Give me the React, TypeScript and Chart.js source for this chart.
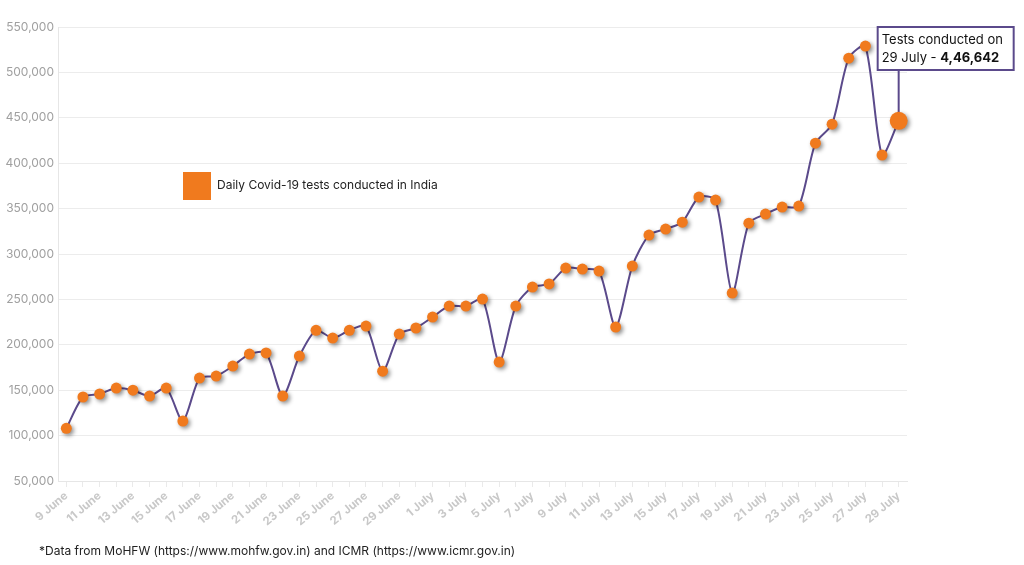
import React, { useEffect, useRef } from "react";
import { Chart, registerables } from "chart.js";

Chart.register(...registerables);

const dates: string[] = [
  "9 June", "10 June", "11 June", "12 June", "13 June", "14 June", "15 June", "16 June", "17 June", "18 June",
  "19 June", "20 June", "21 June", "22 June", "23 June", "24 June", "25 June", "26 June", "27 June", "28 June",
  "29 June", "30 June", "1 July", "2 July", "3 July", "4 July", "5 July", "6 July", "7 July", "8 July",
  "9 July", "10 July", "11 July", "12 July", "13 July", "14 July", "15 July", "16 July", "17 July", "18 July",
  "19 July", "20 July", "21 July", "22 July", "23 July", "24 July", "25 July", "26 July", "27 July", "28 July",
  "29 July",
];

const dailyTests: number[] = [
  108000, 142500, 145800, 152400, 150000, 143600, 152400, 116000, 163400, 165600,
  176600, 189800, 191000, 143600, 187600, 216000, 207400, 216000, 220600, 171000,
  211800, 218500, 230600, 242700, 242700, 250400, 181000, 242700, 263600, 267000,
  284500, 283400, 281200, 219600, 286700, 320800, 327500, 335000, 362700, 359400,
  257000, 334000, 344000, 351700, 352800, 422000, 443000, 515700, 529000, 409000,
  446642,
];

const yTicks: number[] = [50000, 100000, 150000, 200000, 250000, 300000, 350000, 400000, 450000, 500000, 550000];

const seriesLabel = "Daily Covid-19 tests conducted in India";
const calloutLine1 = "Tests conducted on";
const calloutLine2a = "29 July - ";
const calloutLine2b = "4,46,642";
const footnote = "*Data from MoHFW (https://www.mohfw.gov.in) and ICMR (https://www.icmr.gov.in)";

const FONT = "Inter, 'Noto Sans', sans-serif";

export default function App() {
  const ref = useRef<HTMLCanvasElement | null>(null);

  useEffect(() => {
    if (!ref.current) return;
    const lastIdx = dailyTests.length - 1;

    const shadowPlugin = {
      id: "pointShadow",
      beforeDatasetDraw(chart: any, args: any) {
        if (args.index === 1) {
          const ctx = chart.ctx;
          ctx.save();
          ctx.shadowColor = "rgba(0,0,0,0.45)";
          ctx.shadowBlur = 4;
          ctx.shadowOffsetX = 2;
          ctx.shadowOffsetY = 2;
        }
      },
      afterDatasetDraw(chart: any, args: any) {
        if (args.index === 1) chart.ctx.restore();
      },
    };

    const overlayPlugin = {
      id: "overlay",
      beforeDatasetsDraw(chart: any) {
        const ctx = chart.ctx;
        const meta = chart.getDatasetMeta(1);
        const pt = meta.data[lastIdx];
        const by = 27;
        const bh = 43;
        ctx.save();
        ctx.strokeStyle = "#5b4a8b";
        ctx.lineWidth = 2;
        ctx.beginPath();
        ctx.moveTo(pt.x, by + bh);
        ctx.lineTo(pt.x, pt.y);
        ctx.stroke();
        ctx.restore();
      },
      afterDraw(chart: any) {
        const ctx = chart.ctx;
        const meta = chart.getDatasetMeta(1);
        const pt = meta.data[lastIdx];
        ctx.save();
        const bx = pt.x - 21;
        const by = 27;
        const bw = 136;
        const bh = 43;
        ctx.fillStyle = "#ffffff";
        ctx.fillRect(bx, by, bw, bh);
        ctx.strokeStyle = "#5b4a8b";
        ctx.lineWidth = 2;
        ctx.strokeRect(bx, by, bw, bh);
        ctx.fillStyle = "#111";
        ctx.textBaseline = "middle";
        ctx.textAlign = "left";
        ctx.font = `13px ${FONT}`;
        ctx.fillText(calloutLine1, bx + 4, by + 13);
        ctx.fillText(calloutLine2a, bx + 4, by + 31);
        const w = ctx.measureText(calloutLine2a).width;
        ctx.font = `bold 13px ${FONT}`;
        ctx.fillText(calloutLine2b, bx + 4 + w, by + 31);

        // legend
        ctx.fillStyle = "#f07a1e";
        ctx.fillRect(183, 172, 28, 28);
        ctx.fillStyle = "#222";
        ctx.font = `12px ${FONT}`;
        ctx.fillText(seriesLabel, 217, 185);

        // footnote
        ctx.font = `12px ${FONT}`;
        ctx.fillStyle = "#222";
        ctx.fillText(footnote, 39, 551);
        ctx.restore();
      },
    };

    const chart = new Chart(ref.current, {
      type: "line",
      data: {
        labels: dates,
        datasets: [
          {
            label: seriesLabel,
            data: dailyTests,
            borderColor: "#5b4a8b",
            borderWidth: 2,
            tension: 0.25,
            pointRadius: 0,
            fill: false,
            order: 2,
          },
          {
            label: seriesLabel + " points",
            data: dailyTests,
            showLine: false,
            pointRadius: dailyTests.map((_, i) => (i === lastIdx ? 9 : 5.5)),
            pointBackgroundColor: "#f07a1e",
            pointBorderColor: "#f07a1e",
            pointBorderWidth: 0,
            order: 1,
          },
        ],
      },
      options: {
        responsive: false,
        animation: false,
        layout: { padding: { left: 0, right: 117, top: 27, bottom: 24 } },
        plugins: {
          legend: { display: false },
          tooltip: { enabled: false },
        },
        scales: {
          x: {
            offset: true,
            grid: { drawOnChartArea: false, drawTicks: true, tickLength: 6, color: "#eaeaea" },
            border: { color: "#e6e6e6" },
            afterFit(scale: any) {
              scale.height = 60;
            },
            ticks: {
              autoSkip: false,
              minRotation: 40,
              maxRotation: 40,
              color: "#c8c8c8",
              font: { family: FONT, size: 11.5, weight: "bold" },
              padding: 2,
              callback: (_v: any, i: number) => (i % 2 === 0 ? dates[i] : ""),
            },
          },
          y: {
            min: 50000,
            max: 550000,
            afterBuildTicks(scale: any) {
              scale.ticks = yTicks.map((v) => ({ value: v }));
            },
            afterFit(scale: any) {
              scale.width = 58;
            },
            grid: { color: "#ececec", drawTicks: false },
            border: { color: "#e6e6e6" },
            ticks: {
              color: "#a0a0a0",
              padding: 4,
              font: { family: FONT, size: 12 },
              callback: (v: any) => Number(v).toLocaleString("en-US"),
            },
          },
        },
      },
      plugins: [shadowPlugin, overlayPlugin],
    } as any);
    return () => chart.destroy();
  }, []);

  return (
    <div style={{ position: "fixed", left: 0, top: 0, width: 1024, height: 565, background: "#fff" }}>
      <canvas ref={ref} width={1024} height={565} />
    </div>
  );
}
